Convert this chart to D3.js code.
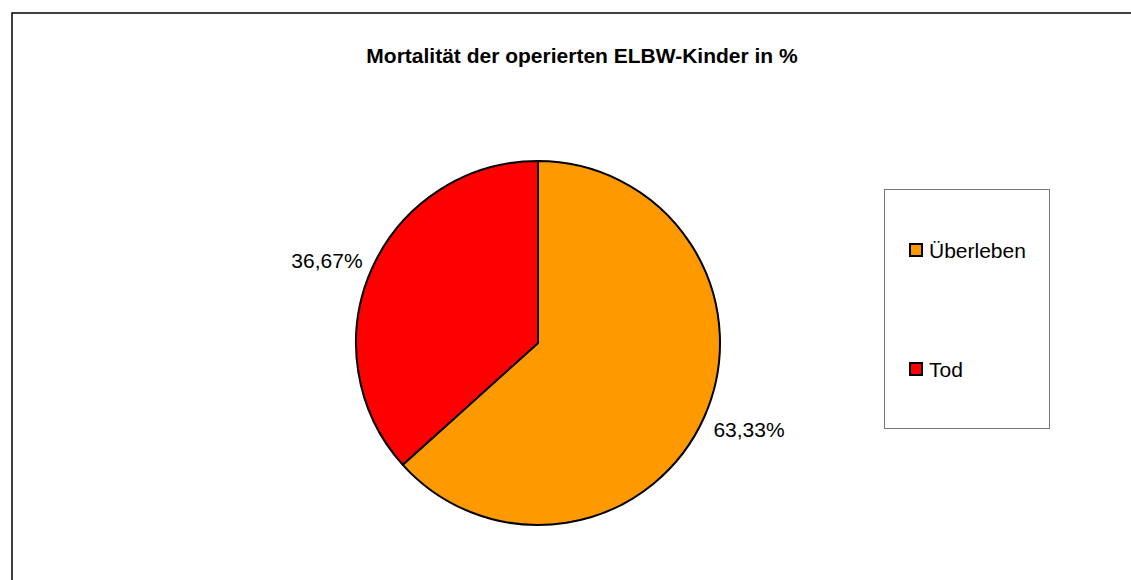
<!DOCTYPE html>
<html>
<head>
<meta charset="utf-8">
<script src="https://cdn.jsdelivr.net/npm/d3@7"></script>
<style>
  body { margin: 0; background: #fff; }
  text { font-family: "Liberation Sans", Arial, sans-serif; }
</style>
</head>
<body>
<div id="chart"></div>
<script>
// Data
const categories = ["Überleben", "Tod"];
const values = [63.33, 36.67];
const sliceColors = ["#FF9900", "#FF0000"];
const chartTitle = "Mortalität der operierten ELBW-Kinder in %";

// SVG size
const svgWidth = 1131;
const svgHeight = 580;

// Pie geometry
const cx = 538;
const cy = 343;
const radius = 182;
const labelRadius = 192;

const svg = d3.select("#chart")
    .append("svg")
    .attr("width", svgWidth)
    .attr("height", svgHeight);

// Chart area frame (only top and left edges visible)
svg.append("rect")
    .attr("x", 12)
    .attr("y", 13)
    .attr("width", svgWidth + 20)
    .attr("height", svgHeight + 20)
    .attr("fill", "none")
    .attr("stroke", "#000")
    .attr("stroke-width", 1.5);

// Title
svg.append("text")
    .attr("x", 582)
    .attr("y", 63)
    .attr("text-anchor", "middle")
    .attr("font-size", "21px")
    .attr("font-weight", "bold")
    .text(chartTitle);

const tableData = categories.map((c, i) => ({ name: c, value: values[i], color: sliceColors[i] }));

const pie = d3.pie()
    .sort(null)
    .value(d => d.value);

const arc = d3.arc()
    .innerRadius(0)
    .outerRadius(radius);

const labelArc = d3.arc()
    .innerRadius(labelRadius)
    .outerRadius(labelRadius);

const pieGroup = svg.append("g")
    .attr("transform", `translate(${cx}, ${cy})`);

const arcs = pie(tableData);

pieGroup.selectAll("path")
    .data(arcs)
    .enter()
    .append("path")
    .attr("d", arc)
    .attr("fill", d => d.data.color)
    .attr("stroke", "#000")
    .attr("stroke-width", 2)
    .attr("stroke-linejoin", "round");

// Percent labels, German decimal comma
const fmt = v => d3.format(".2f")(v).replace(".", ",") + "%";

// label box touches the pie just outside the slice's mid-angle
pieGroup.selectAll(".pct")
    .data(arcs)
    .enter()
    .append("text")
    .attr("class", "pct")
    .attr("x", d => labelArc.centroid(d)[0])
    .attr("y", d => {
        const y = labelArc.centroid(d)[1];
        return y < 0 ? y + 3 : y + 16;
    })
    .attr("text-anchor", d => labelArc.centroid(d)[0] < 0 ? "end" : "start")
    .attr("font-size", "21px")
    .attr("fill", "#000")
    .text(d => fmt(d.data.value));

// Legend
const legend = svg.append("g");

legend.append("rect")
    .attr("x", 884.5)
    .attr("y", 189.5)
    .attr("width", 165)
    .attr("height", 239)
    .attr("fill", "#fff")
    .attr("stroke", "#777")
    .attr("stroke-width", 1);

const legendY = d3.scalePoint()
    .domain(categories)
    .range([250, 369]);

const items = legend.selectAll(".item")
    .data(tableData)
    .enter()
    .append("g")
    .attr("class", "item")
    .attr("transform", d => `translate(0, ${legendY(d.name)})`);

items.append("rect")
    .attr("x", 910)
    .attr("y", -6)
    .attr("width", 12)
    .attr("height", 12)
    .attr("fill", d => d.color)
    .attr("stroke", "#000")
    .attr("stroke-width", 2);

items.append("text")
    .attr("x", 929)
    .attr("y", 8)
    .attr("font-size", "21px")
    .attr("fill", "#000")
    .text(d => d.name);
</script>
</body>
</html>
